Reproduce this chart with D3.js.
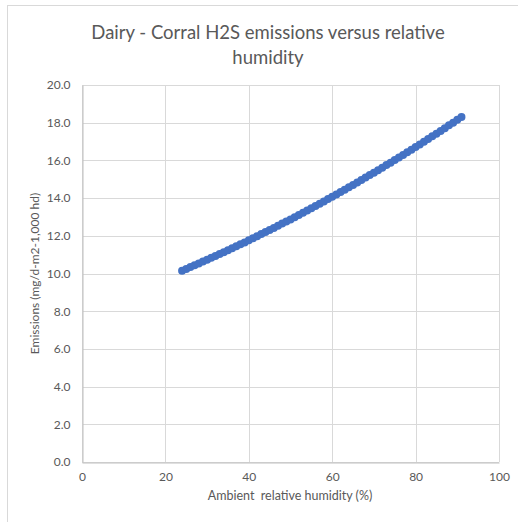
<!DOCTYPE html>
<html><head><meta charset="utf-8">
<script src="https://cdn.jsdelivr.net/npm/d3@7"></script>
<style>html,body{margin:0;padding:0;background:#fff;}svg{display:block;font-family:Lato,"Open Sans",sans-serif;}</style>
</head><body>
<script>
const titleLines = ["Dairy - Corral H2S emissions versus relative", "humidity"];
const xLabel = "Ambient  relative humidity (%)";
const yLabel = "Emissions (mg/d-m2-1,000 hd)";
const xTicks = [0, 20, 40, 60, 80, 100];
const yTicks = [0, 2, 4, 6, 8, 10, 12, 14, 16, 18, 20];
const humidity = [24,25,26,27,28,29,30,31,32,33,34,35,36,37,38,39,40,41,42,43,44,45,46,47,48,49,50,51,52,53,54,55,56,57,58,59,60,61,62,63,64,65,66,67,68,69,70,71,72,73,74,75,76,77,78,79,80,81,82,83,84,85,86,87,88,89,90,91];
const emissions = [10.15,10.24,10.34,10.44,10.53,10.63,10.73,10.83,10.93,11.03,11.13,11.23,11.34,11.44,11.55,11.65,11.76,11.87,11.98,12.09,12.20,12.31,12.42,12.53,12.65,12.76,12.87,12.99,13.11,13.22,13.34,13.46,13.58,13.70,13.82,13.95,14.07,14.19,14.32,14.44,14.57,14.70,14.83,14.96,15.09,15.22,15.35,15.48,15.61,15.75,15.88,16.02,16.15,16.29,16.43,16.57,16.71,16.85,16.99,17.13,17.28,17.42,17.56,17.71,17.86,18.00,18.15,18.30];

const W = 518, H = 522;
const svg = d3.select("body").append("svg").attr("width", W).attr("height", H);
// chart border (top/left visible)
svg.append("rect").attr("x", 7.5).attr("y", 5.5).attr("width", 520).attr("height", 530)
  .attr("fill", "#fff").attr("stroke", "#d9d9d9").attr("stroke-width", 1);

const x = d3.scaleLinear().domain([0, 100]).range([82, 499]);
const y = d3.scaleLinear().domain([0, 20]).range([462, 85]);
const grey = "#595959";

// title
svg.append("g").selectAll("text").data(titleLines).join("text")
  .attr("x", 268).attr("y", (d, i) => 39 + i * 25)
  .attr("text-anchor", "middle").attr("fill", grey).attr("font-size", 18.5)
  .text(d => d);

// gridlines
const g = svg.append("g");
g.selectAll("line.h").data(yTicks).join("line").attr("class", "h")
  .attr("x1", x(0)).attr("x2", x(100)).attr("y1", d => Math.round(y(d)) + 0.5).attr("y2", d => Math.round(y(d)) + 0.5)
  .attr("stroke", "#d9d9d9");
g.selectAll("line.v").data(xTicks).join("line").attr("class", "v")
  .attr("y1", y(0)).attr("y2", y(20)).attr("x1", d => Math.round(x(d)) + 0.5).attr("x2", d => Math.round(x(d)) + 0.5)
  .attr("stroke", "#d9d9d9");

// axes
const xAxis = svg.append("g").attr("transform", `translate(0,${Math.round(y(0)) + 0.5})`)
  .call(d3.axisBottom(x).tickValues(xTicks).tickSize(0).tickPadding(10).tickFormat(d3.format("d")));
const yAxis = svg.append("g").attr("transform", `translate(${Math.round(x(0)) + 0.5},0)`)
  .call(d3.axisLeft(y).tickValues(yTicks).tickSize(0).tickPadding(12).tickFormat(d3.format(".1f")));
[xAxis, yAxis].forEach(a => {
  a.select(".domain").attr("stroke", "#bfbfbf");
  a.selectAll("text").attr("fill", grey).attr("font-size", 12).attr("font-family", "Lato,'Open Sans',sans-serif");
});

// axis titles
svg.append("text").attr("x", 290).attr("y", 500).attr("text-anchor", "middle")
  .style("white-space", "pre")
  .attr("fill", grey).attr("font-size", 12.5).text(xLabel);
svg.append("text").attr("transform", `translate(39,${(y(0) + y(20)) / 2}) rotate(-90)`)
  .attr("text-anchor", "middle").attr("fill", grey).attr("font-size", 12).text(yLabel);

// points
svg.append("g").selectAll("circle").data(humidity).join("circle")
  .attr("cx", d => x(d)).attr("cy", (d, i) => y(emissions[i])).attr("r", 4)
  .attr("fill", "#4472C4");
</script>
</body></html>
